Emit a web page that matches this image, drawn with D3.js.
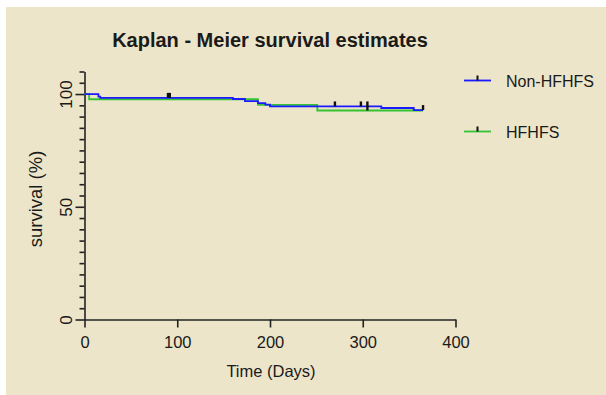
<!DOCTYPE html>
<html><head><meta charset="utf-8">
<script src="https://cdn.jsdelivr.net/npm/d3@7"></script>
<style>body{margin:0;background:#fff}svg{display:block}text{font-family:"Liberation Sans",Arial,sans-serif;fill:#1a1a1a}</style>
</head><body>
<svg id="c" width="606" height="395"></svg>
<script>
// Data
const seriesNames = ["Non-HFHFS", "HFHFS"];
const seriesColors = ["#1a1aff", "#33c433"];
const nonTimes = [0, 15, 17, 160, 173, 187, 195, 200, 320, 355, 365];
const nonSurv  = [100, 98.9, 98.3, 97.8, 96.9, 96.0, 95.3, 94.5, 93.8, 92.9, 92.9];
const nonCensor = [90, 92, 270, 298, 305, 365];
const hfTimes = [0, 5, 187, 251, 365];
const hfSurv  = [100, 97.7, 95.2, 92.7, 92.7];
const hfCensor = [305];
const xTicks = [0, 100, 200, 300, 400];
const yMajor = [0, 50, 100];

const svg = d3.select("#c");
svg.append("rect").attr("x",6).attr("y",7).attr("width",600).attr("height",388).attr("fill","#ece5c9");

const x = d3.scaleLinear().domain([0,400]).range([84.5,455.5]);
const y = d3.scaleLinear().domain([0,110]).range([319.5,71.5]);

// title
svg.append("text").attr("x",270).attr("y",47).attr("text-anchor","middle")
  .style("font-size","20px").style("font-weight","bold").text("Kaplan - Meier survival estimates");

// y axis
const yMinor = d3.range(0,111,5).filter(v=>!yMajor.includes(v));
const gy = svg.append("g").attr("transform",`translate(${x(0)},0)`);
gy.call(d3.axisLeft(y).tickValues(yMinor).tickSize(5).tickSizeOuter(0).tickFormat(""));
gy.call(g=>g.selectAll(".tick line").attr("stroke","#222").attr("stroke-width",1.6));
const gyM = svg.append("g").attr("transform",`translate(${x(0)},0)`);
gyM.call(d3.axisLeft(y).tickValues(yMajor).tickSize(9).tickSizeOuter(0).tickPadding(0));
gyM.select(".domain").remove();
gyM.selectAll(".tick line").attr("stroke","#222").attr("stroke-width",1.6);
gyM.selectAll(".tick text").attr("x",-13).attr("dy",0).attr("text-anchor","middle")
  .attr("transform","rotate(-90,-13,0)").style("font-size","17px").attr("fill","#1a1a1a")
  .attr("font-family",null);
gy.select(".domain").attr("stroke","#222").attr("stroke-width",1.6);

// x axis
const gx = svg.append("g").attr("transform",`translate(0,${y(0)})`);
gx.call(d3.axisBottom(x).tickValues(xTicks).tickSize(8).tickSizeOuter(0).tickPadding(9));
gx.select(".domain").attr("stroke","#222").attr("stroke-width",1.6);
gx.selectAll(".tick line").attr("stroke","#222").attr("stroke-width",1.6);
gx.selectAll(".tick text").style("font-size","16.5px").attr("fill","#1a1a1a").attr("font-family",null);

// axis labels
svg.append("text").attr("x",271).attr("y",377).attr("text-anchor","middle").style("font-size","16.5px").text("Time (Days)");
svg.append("text").attr("transform","translate(42,199) rotate(-90)").attr("text-anchor","middle").style("font-size","18.5px").text("survival (%)");

// curves
const line = d3.line().curve(d3.curveStepAfter).x(d=>x(d[0])).y(d=>y(d[1]));
const series = [
  {times:hfTimes, surv:hfSurv, censor:hfCensor, color:seriesColors[1]},
  {times:nonTimes, surv:nonSurv, censor:nonCensor, color:seriesColors[0]}
];
function survAt(s,t){let v=s.surv[0];for(let i=0;i<s.times.length;i++){if(s.times[i]<=t)v=s.surv[i];}return v;}
series.forEach(s=>{
  const pts = s.times.map((t,i)=>[t,s.surv[i]]);
  svg.append("path").attr("d",line(pts)).attr("fill","none").attr("stroke",s.color).attr("stroke-width",1.8);
});
series.forEach(s=>{
  svg.selectAll(null).data(s.censor).enter().append("line")
    .attr("x1",d=>x(d)).attr("x2",d=>x(d))
    .attr("y1",d=>y(survAt(s,d))).attr("y2",d=>y(survAt(s,d))-5)
    .attr("stroke","#111").attr("stroke-width",2.4);
});

// legend
const legY = [80.5, 131.5];
seriesNames.forEach((n,i)=>{
  svg.append("line").attr("x1",464).attr("x2",491).attr("y1",legY[i]).attr("y2",legY[i]).attr("stroke",seriesColors[i]).attr("stroke-width",1.8);
  svg.append("line").attr("x1",477.5).attr("x2",477.5).attr("y1",legY[i]).attr("y2",legY[i]-5).attr("stroke","#111").attr("stroke-width",2);
  svg.append("text").attr("x",506).attr("y",legY[i]+6).style("font-size","16px").text(n);
});
</script>
</body></html>
